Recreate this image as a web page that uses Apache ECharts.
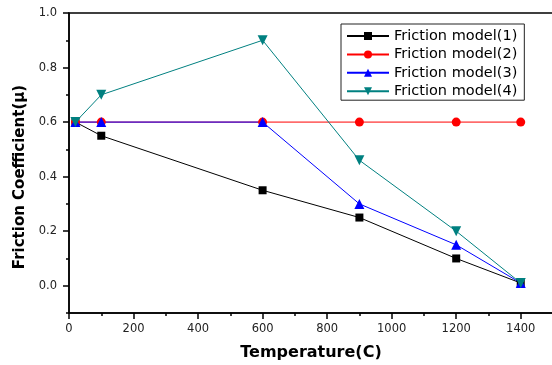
<!DOCTYPE html>
<html><head><meta charset="utf-8">
<script src="https://cdn.jsdelivr.net/npm/echarts@6/dist/echarts.min.js"></script>
<style>html,body{margin:0;padding:0;background:#fff}#c{width:552px;height:365px}</style>
</head><body><div id="c"></div>
<script>
const temps = [20, 100, 600, 900, 1200, 1400];
const model1 = [0.60, 0.55, 0.35, 0.25, 0.10, 0.01];
const model2 = [0.60, 0.60, 0.60, 0.60, 0.60, 0.60];
const model3 = [0.60, 0.60, 0.60, 0.30, 0.15, 0.01];
const model4 = [0.60, 0.70, 0.90, 0.46, 0.20, 0.01];
const seriesNames = ['Friction model(1)', 'Friction model(2)', 'Friction model(3)', 'Friction model(4)'];
const xTickLabels = [0, 200, 400, 600, 800, 1000, 1200, 1400];
const yTickLabels = [0.0, 0.2, 0.4, 0.6, 0.8, 1.0];

const near = (arr, v, eps) => arr.some(a => Math.abs(a - v) < eps);
const pairs = ys => temps.map((t, i) => [t, ys[i]]);
const font = 'DejaVu Sans, sans-serif';

const chart = echarts.init(document.getElementById('c'), null, {renderer: 'canvas'});
const mk = (name, ys, color, symbol, size, rot) => ({
  name, type: 'line', data: pairs(ys), xAxisIndex: 0, yAxisIndex: 0,
  symbol, symbolSize: size, symbolRotate: rot || 0,
  lineStyle: {color, width: 1}, itemStyle: {color},
  emphasis: {disabled: true}, animation: false
});
chart.setOption({
  animation: false,
  grid: {left: 69, top: 13, right: -1, bottom: 52, show: true, borderColor: '#000', borderWidth: 1.5,
    outerBoundsMode: 'none', containLabel: false},
  legend: {
    data: seriesNames, orient: 'vertical', left: 341, top: 24,
    itemWidth: 42, itemHeight: 10, itemGap: 2.4,
    textStyle: {fontFamily: font, fontSize: 14.5, lineHeight: 16, color: '#000'},
    backgroundColor: '#fff', borderColor: '#222', borderWidth: 1, padding: [4, 7, 1, 5]
  },
  xAxis: [{
    type: 'value', min: 0, max: 1500, interval: 100,
    name: 'Temperature(C)', nameLocation: 'middle', nameGap: 32,
    nameTextStyle: {fontFamily: font, fontSize: 16, fontWeight: 'bold', color: '#000'},
    axisLine: {show: true, onZero: false, lineStyle: {color: '#000', width: 1.5}},
    axisTick: {show: true, inside: false, length: 3, lineStyle: {color: '#000', width: 1.5}},
    axisLabel: {fontFamily: font, fontSize: 11.5, color: '#222', margin: 10,
      formatter: v => near(xTickLabels, v, 1) ? String(v) : ''},
    splitLine: {show: false}
  }, {
    type: 'value', min: 0, max: 1500, position: 'bottom',
    axisLine: {show: false, onZero: false}, axisLabel: {show: false}, splitLine: {show: false},
    axisTick: {show: true, length: 6, customValues: xTickLabels, lineStyle: {color: '#000', width: 1.5}}
  }],
  yAxis: [{
    type: 'value', min: -0.1, max: 1.0, interval: 0.1,
    name: 'Friction Coefficient(\u03bc)', nameLocation: 'middle', nameGap: 41, nameRotate: 90,
    nameTextStyle: {fontFamily: font, fontSize: 15, fontWeight: 'bold', color: '#000', padding: [0, 28, 0, 0]},
    axisLine: {show: true, onZero: false, lineStyle: {color: '#000', width: 1.5}},
    axisTick: {show: true, inside: false, length: 3, lineStyle: {color: '#000', width: 1.5}},
    axisLabel: {fontFamily: font, fontSize: 11.5, color: '#222', margin: 12,
      formatter: v => near(yTickLabels, v, 0.001) ? v.toFixed(1) : ''},
    splitLine: {show: false}
  }, {
    type: 'value', min: -0.1, max: 1.0, position: 'left',
    axisLine: {show: false, onZero: false}, axisLabel: {show: false}, splitLine: {show: false},
    axisTick: {show: true, length: 6, customValues: yTickLabels, lineStyle: {color: '#000', width: 1.5}}
  }],
  series: [
    mk(seriesNames[0], model1, '#000000', 'rect', 8),
    mk(seriesNames[1], model2, '#ff0000', 'circle', 9),
    mk(seriesNames[2], model3, '#0000ff', 'triangle', 10),
    mk(seriesNames[3], model4, '#008080', 'triangle', 10, 180)
  ]
});
</script></body></html>
